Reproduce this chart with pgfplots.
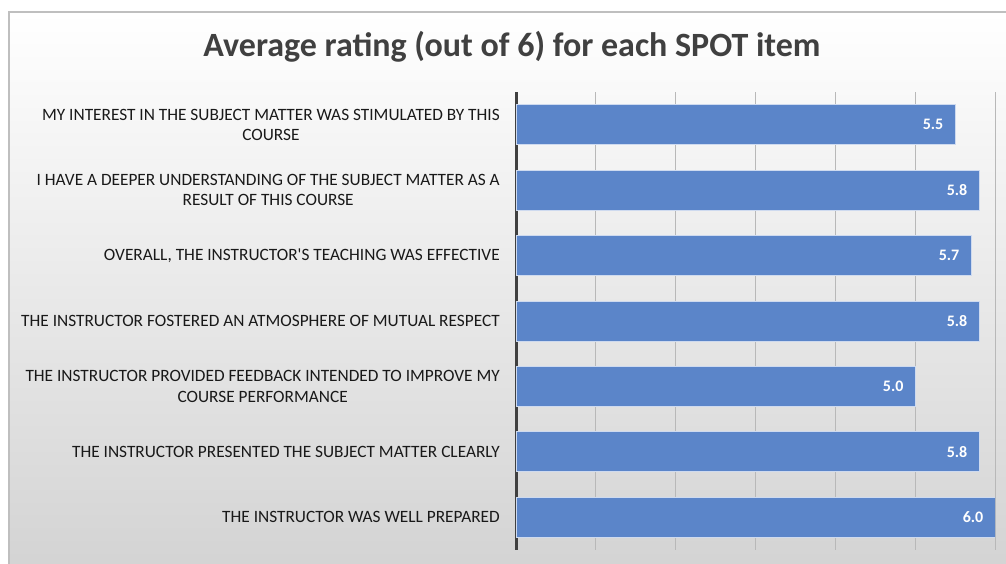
\documentclass[border=0pt]{standalone}
\usepackage{fontspec}
\setmainfont{Carlito}
\usepackage{pgfplots}
\pgfplotsset{compat=1.18}
\definecolor{barblue}{RGB}{91,133,201}
\definecolor{titlegray}{RGB}{64,64,64}
\begin{document}
\begin{tikzpicture}[x=1pt,y=1pt]
\useasboundingbox (0,0) rectangle (1006,564);
\shade[top color=white, bottom color=black!17] (9,0) rectangle (1006,552);
\draw[black!25, line width=1.5pt] (9,-5) -- (9,552) -- (1010,552);
\node[font=\bfseries\fontsize{34}{40}\selectfont, text=titlegray] at (512,517) {Average rating (out of 6) for each SPOT item};
\begin{axis}[
  at={(516pt,14pt)}, anchor=south west,
  scale only axis, width=479pt, height=458pt,
  xmin=0, xmax=6, ymin=-0.5, ymax=6.5, y dir=reverse,
  xbar, bar width=40pt,
  axis lines*=left,
  x axis line style={draw=none},
  y axis line style={-, draw=black!75, line width=3pt},
  xtick={0,...,6}, xticklabels={}, xmajorgrids, grid style={black!28, line width=1pt},
  major tick length=0pt,
  ytick={0,...,6},
  yticklabels={{MY INTEREST IN THE SUBJECT MATTER WAS STIMULATED BY THIS\\COURSE},
    {I HAVE A DEEPER UNDERSTANDING OF THE SUBJECT MATTER AS A\\RESULT OF THIS COURSE},
    {OVERALL, THE INSTRUCTOR\textquotesingle S TEACHING WAS EFFECTIVE},
    {THE INSTRUCTOR FOSTERED AN ATMOSPHERE OF MUTUAL RESPECT},
    {THE INSTRUCTOR PROVIDED FEEDBACK INTENDED TO IMPROVE MY\\COURSE PERFORMANCE},
    {THE INSTRUCTOR PRESENTED THE SUBJECT MATTER CLEARLY},
    {THE INSTRUCTOR WAS WELL PREPARED}},
  yticklabel style={align=center, font=\fontsize{17.3}{20.5}\selectfont, text=black!90, inner sep=0pt, xshift=-16pt},
  /pgf/number format/assume math mode=true,
  nodes near coords={\pgfmathprintnumber[fixed,zerofill,precision=1]{\pgfplotspointmeta}},
  point meta=x,
  nodes near coords style={anchor=east, text=white, font=\bfseries\fontsize{16}{18}\selectfont, xshift=-8pt},
]
\addplot[fill=barblue, draw=white!70!barblue, line width=0.8pt] coordinates {(5.5,0) (5.8,1) (5.7,2) (5.8,3) (5.0,4) (5.8,5) (6.0,6)};
\end{axis}
\end{tikzpicture}
\end{document}
